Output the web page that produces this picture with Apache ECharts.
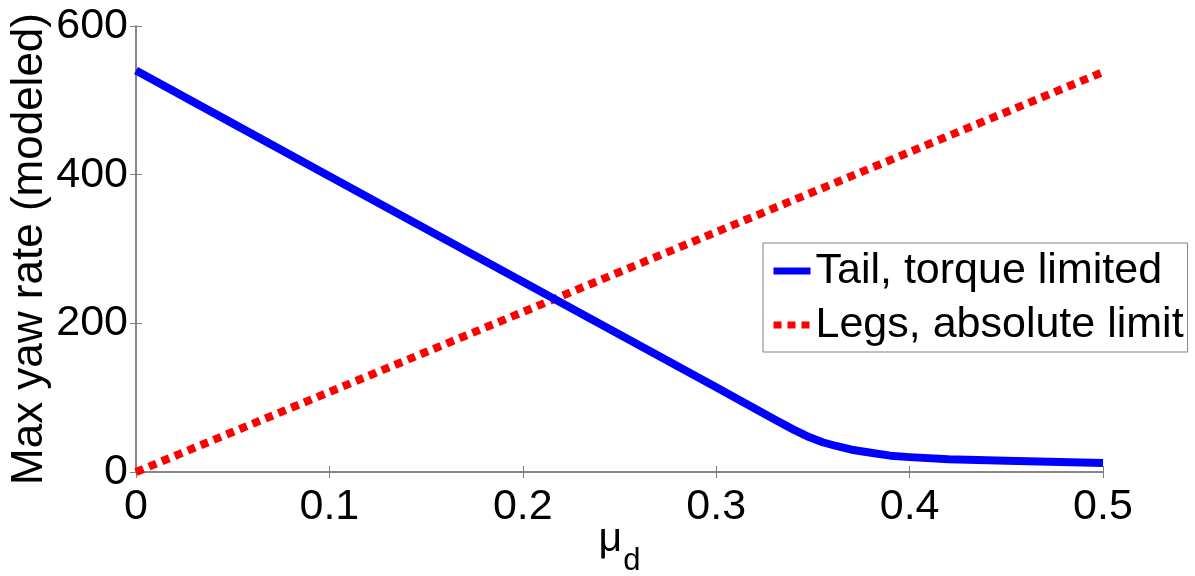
<!DOCTYPE html>
<html>
<head>
<meta charset="utf-8">
<script src="https://cdn.jsdelivr.net/npm/echarts@6/dist/echarts.min.js"></script>
<style>
  html, body { margin: 0; padding: 0; background: #fff; }
  #chart { width: 1195px; height: 576px; }
</style>
</head>
<body>
<div id="chart"></div>
<script>
// values
var tailMu   = [0, 0.05, 0.1, 0.15, 0.2, 0.25, 0.3, 0.33, 0.34, 0.348, 0.355, 0.362, 0.37, 0.38, 0.39, 0.4, 0.42, 0.45, 0.5];
var tailRate = [540, 469, 398, 327, 256, 185, 114, 71, 57, 47, 40, 35, 30, 26, 22, 20, 17, 15, 12];
var legsMu   = [0, 0.5];
var legsRate = [0, 538];
var xTicks = [0, 0.1, 0.2, 0.3, 0.4, 0.5];
var yTicks = [0, 200, 400, 600];

var FONT = 'Liberation Sans, Arial, sans-serif';
var AXIS_GRAY = '#808080';

function pairs(xs, ys) {
  return xs.map(function (x, i) { return [x, ys[i]]; });
}

var chart = echarts.init(document.getElementById('chart'));

var option = {
  backgroundColor: '#fff',
  animation: false,
  textStyle: { fontFamily: FONT },
  grid: { left: 136, right: 92, top: 26, bottom: 104, containLabel: false, outerBoundsMode: 'none' },
  xAxis: [
    {
      type: 'value',
      min: xTicks[0],
      max: xTicks[xTicks.length - 1],
      interval: 0.1,
      name: '{m|μ}{s|d}',
      nameLocation: 'middle',
      nameMoveOverlap: false,
      nameGap: 48,
      nameTextStyle: {
        rich: {
          m: { fontSize: 41, fontFamily: FONT, color: '#000', lineHeight: 40 },
          s: { fontSize: 31, fontFamily: FONT, color: '#000', lineHeight: 30, padding: [42, 0, 0, 1] }
        }
      },
      axisLine: { show: true, lineStyle: { color: AXIS_GRAY, width: 1.5 } },
      axisTick: { show: true, inside: true, length: 6, lineStyle: { color: AXIS_GRAY } },
      axisLabel: {
        fontSize: 43, color: '#000', margin: 14, fontFamily: FONT,
        formatter: function (v) { return String(v); }
      },
      splitLine: { show: false }
    },
    {
      type: 'value',
      position: 'top',
      min: xTicks[0],
      max: xTicks[xTicks.length - 1],
      interval: 0.1,
      axisLine: { show: true, lineStyle: { color: AXIS_GRAY, width: 1.5 } },
      axisTick: { show: true, inside: true, length: 6, lineStyle: { color: AXIS_GRAY } },
      axisLabel: { show: false },
      splitLine: { show: false }
    }
  ],
  yAxis: [
    {
      type: 'value',
      min: yTicks[0],
      max: yTicks[yTicks.length - 1],
      interval: 200,
      name: 'Max yaw rate (modeled)',
      nameLocation: 'middle',
      nameMoveOverlap: false,
      nameGap: 84,
      nameTextStyle: { fontSize: 44, color: '#000', fontFamily: FONT },
      axisLine: { show: true, lineStyle: { color: AXIS_GRAY, width: 1.5 } },
      axisTick: { show: true, inside: true, length: 6, lineStyle: { color: AXIS_GRAY } },
      axisLabel: { fontSize: 43, color: '#000', margin: 8, fontFamily: FONT },
      splitLine: { show: false }
    },
    {
      type: 'value',
      position: 'right',
      min: yTicks[0],
      max: yTicks[yTicks.length - 1],
      interval: 200,
      axisLine: { show: true, lineStyle: { color: AXIS_GRAY, width: 1.5 } },
      axisTick: { show: true, inside: true, length: 6, lineStyle: { color: AXIS_GRAY } },
      axisLabel: { show: false },
      splitLine: { show: false }
    }
  ],
  legend: {
    orient: 'vertical',
    left: 763,
    top: 243,
    padding: [6, 4, 5, 7],
    itemGap: 10,
    itemWidth: 37,
    itemHeight: 16,
    itemTextGap: 7,
    selectedMode: false,
    backgroundColor: '#fff',
    borderColor: AXIS_GRAY,
    borderWidth: 1,
    borderRadius: 0,
    itemStyle: { opacity: 0 },
    lineStyle: { width: 7 },
    textStyle: { fontSize: 43, color: '#000', fontFamily: FONT, lineHeight: 44 },
    data: ['Tail, torque limited', 'Legs, absolute limit']
  },
  series: [
    {
      name: 'Tail, torque limited',
      type: 'line',
      symbol: 'none',
      data: pairs(tailMu, tailRate),
      lineStyle: { color: '#0000ff', width: 8, join: 'round' },
      itemStyle: { color: '#0000ff' },
      z: 3
    },
    {
      name: 'Legs, absolute limit',
      type: 'line',
      symbol: 'none',
      data: pairs(legsMu, legsRate),
      lineStyle: { color: '#ff0000', width: 8, type: [8, 6], cap: 'butt' },
      itemStyle: { color: '#ff0000' },
      z: 2
    }
  ]
};

chart.setOption(option);
</script>
</body>
</html>
